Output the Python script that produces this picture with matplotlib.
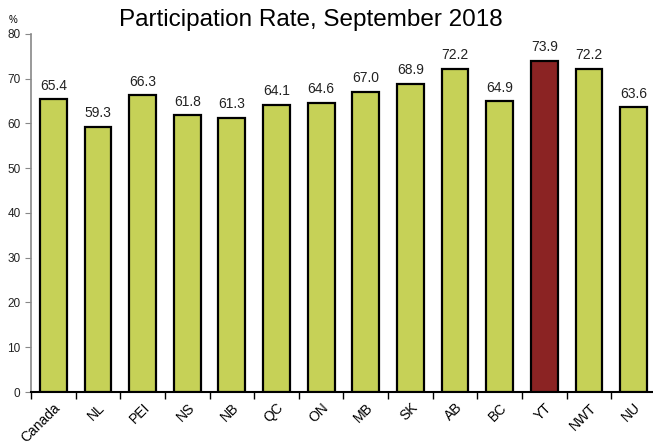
import matplotlib
matplotlib.use('agg')
import matplotlib.pyplot as plt

regions = ['Canada', 'NL', 'PEI', 'NS', 'NB', 'QC', 'ON', 'MB', 'SK', 'AB', 'BC', 'YT', 'NWT', 'NU']
rates = [65.4, 59.3, 66.3, 61.8, 61.3, 64.1, 64.6, 67.0, 68.9, 72.2, 64.9, 73.9, 72.2, 63.6]
highlight = 'YT'

plt.rcParams['font.family'] = ['Liberation Sans', 'DejaVu Sans']

green = '#C6D157'
red = '#8B2323'
colors = [red if r == highlight else green for r in regions]

fig = plt.figure(figsize=(6.53, 4.46), dpi=100)
ax = fig.add_axes([0.0475, 0.121, 0.957, 0.803])
x = list(range(len(regions)))
ax.bar(x, rates, width=0.6, color=colors, edgecolor='black', linewidth=1.6, zorder=3)

for xi, v in zip(x, rates):
    ax.text(xi, v + 1.5, f'{v:.1f}', ha='center', va='bottom', fontsize=10, color='#222222')

ax.set_xlim(-0.5, len(regions) - 0.5)
ax.set_ylim(0, 80)
ax.set_yticks(range(0, 81, 10))
ax.tick_params(axis='y', labelsize=8.5, length=4, color='#888888', labelcolor='#222222')

ax.set_xticks(x)
ax.set_xticklabels(regions, rotation=45, ha='right', rotation_mode='anchor', fontsize=10)
ax.tick_params(axis='x', length=0, pad=6)
ax.set_xticks([i - 0.5 for i in range(len(regions) + 1)], minor=True)
ax.tick_params(axis='x', which='minor', length=5, width=1, color='black')

for s in ['top', 'right']:
    ax.spines[s].set_visible(False)
ax.spines['left'].set_color('#888888')
ax.spines['left'].set_linewidth(1.2)
ax.spines['bottom'].set_linewidth(1.5)

fig.text(0.476, 0.955, 'Participation Rate, September 2018', ha='center', va='center', fontsize=17.5)
fig.text(0.02, 0.955, '%', ha='center', va='center', fontsize=7)

plt.savefig('out.png', dpi=100)
plt.close()
